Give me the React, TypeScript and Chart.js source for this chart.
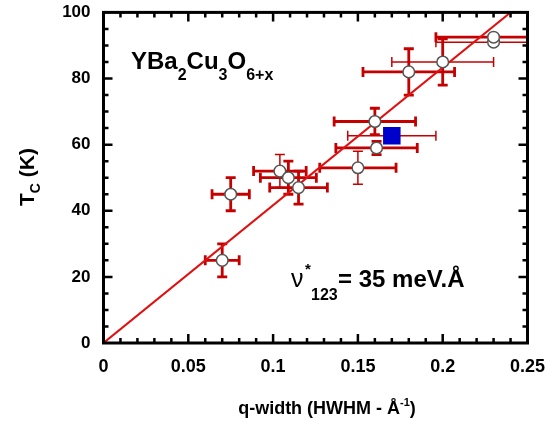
import React, { useEffect, useRef } from 'react';
import { Chart, registerables } from 'chart.js';

Chart.register(...registerables);

// ---- data ----
const qWidth = [0.07, 0.075, 0.104, 0.109, 0.115, 0.15, 0.161, 0.16, 0.18, 0.2, 0.23, 0.23];
const tc = [25, 45, 52, 50, 47, 53, 59, 67, 82, 85, 91, 92.5];
const qErr = [0.01, 0.011, 0.0155, 0.0165, 0.017, 0.0225, 0.024, 0.024, 0.027, 0.03, 0.034, 0.034];
const tcErr = [5, 5, 5, 5, 5, 5, 2, 4, 7, 7, 0, 0];

const sampleQ = [0.17];
const sampleTc = [62.7];
const sampleQErr = [0.026];

const fitQ = [0, 0.24];
const fitTc = [0, 100];

const xTickValues = [0, 0.05, 0.1, 0.15, 0.2, 0.25];
const xTickLabels = ['0', '0.05', '0.1', '0.15', '0.2', '0.25'];
const yTickValues = [0, 20, 40, 60, 80, 100];
const yTickLabels = ['0', '20', '40', '60', '80', '100'];

// ---- styles ----
const qBarHeavy = [true, true, true, true, true, true, true, true, true, false, false, true];
const tcBarHeavy = [true, true, false, true, true, false, true, true, true, true, true, true];

const FONT = "'Liberation Sans', Arial, Helvetica, sans-serif";
const BAR_COLOR = '#c40000';
const LINE_COLOR = '#e01010';

type Run = { text: string; size: number; dy?: number; weight?: string };

function runsWidth(ctx: CanvasRenderingContext2D, runs: Run[]) {
  let w = 0;
  for (const r of runs) {
    ctx.font = `${r.weight ?? 'bold'} ${r.size}px ${FONT}`;
    w += ctx.measureText(r.text).width;
  }
  return w;
}

function drawRuns(ctx: CanvasRenderingContext2D, x: number, y: number, runs: Run[]) {
  let cx = x;
  ctx.textBaseline = 'alphabetic';
  ctx.textAlign = 'left';
  for (const r of runs) {
    ctx.font = `${r.weight ?? 'bold'} ${r.size}px ${FONT}`;
    ctx.fillText(r.text, cx, y + (r.dy ?? 0));
    cx += ctx.measureText(r.text).width;
  }
}

const errorBarsPlugin = {
  id: 'errorBars',
  beforeDatasetsDraw(chart: any) {
    const { ctx, chartArea, scales } = chart;
    const xs = scales.x;
    const ys = scales.y;
    ctx.save();
    ctx.beginPath();
    ctx.rect(chartArea.left, chartArea.top, chartArea.right - chartArea.left, chartArea.bottom - chartArea.top);
    ctx.clip();
    ctx.strokeStyle = BAR_COLOR;
    ctx.lineCap = 'butt';
    const seg = (x1: number, y1: number, x2: number, y2: number, w: number) => {
      ctx.lineWidth = w;
      ctx.beginPath();
      ctx.moveTo(x1, y1);
      ctx.lineTo(x2, y2);
      ctx.stroke();
    };
    const cap = 5;
    const hBar = (q: number, t: number, e: number, w: number) => {
      const py = ys.getPixelForValue(t);
      const x1 = xs.getPixelForValue(q - e);
      const x2 = xs.getPixelForValue(q + e);
      seg(x1, py, x2, py, w);
      seg(x1, py - cap, x1, py + cap, w);
      seg(x2, py - cap, x2, py + cap, w);
    };
    const vBar = (q: number, t: number, e: number, w: number) => {
      const px = xs.getPixelForValue(q);
      const y1 = ys.getPixelForValue(t - e);
      const y2 = ys.getPixelForValue(t + e);
      seg(px, y1, px, y2, w);
      seg(px - cap, y1, px + cap, y1, w);
      seg(px - cap, y2, px + cap, y2, w);
    };
    for (let i = 0; i < qWidth.length; i++) {
      if (qErr[i] > 0) hBar(qWidth[i], tc[i], qErr[i], qBarHeavy[i] ? 2.8 : 1.5);
      if (tcErr[i] > 0) vBar(qWidth[i], tc[i], tcErr[i], tcBarHeavy[i] ? 2.8 : 1.5);
    }
    for (let i = 0; i < sampleQ.length; i++) {
      hBar(sampleQ[i], sampleTc[i], sampleQErr[i], 1.5);
    }
    ctx.restore();
  },
};

const framePlugin = {
  id: 'frameAndText',
  afterDraw(chart: any) {
    const { ctx, chartArea, scales } = chart;
    const xs = scales.x;
    const ys = scales.y;
    const { left, right, top, bottom } = chartArea;
    ctx.save();
    ctx.strokeStyle = '#000';
    ctx.lineWidth = 3;
    ctx.strokeRect(left, top, right - left, bottom - top);

    // ticks (inside, on all four sides)
    ctx.lineWidth = 2.5;
    const tickX = (v: number, len: number) => {
      const px = xs.getPixelForValue(v);
      ctx.beginPath();
      ctx.moveTo(px, bottom);
      ctx.lineTo(px, bottom - len);
      ctx.moveTo(px, top);
      ctx.lineTo(px, top + len);
      ctx.stroke();
    };
    const tickY = (v: number, len: number) => {
      const py = ys.getPixelForValue(v);
      ctx.beginPath();
      ctx.moveTo(left, py);
      ctx.lineTo(left + len, py);
      ctx.moveTo(right, py);
      ctx.lineTo(right - len, py);
      ctx.stroke();
    };
    for (let k = 1; k < 25; k++) {
      tickX(k / 100, k % 5 === 0 ? 9 : 5);
    }
    for (let k = 1; k < 20; k++) {
      tickY(k * 5, k % 4 === 0 ? 9 : 5);
    }

    ctx.fillStyle = '#000';
    // x title
    const xRuns: Run[] = [
      { text: 'q-width (HWHM - Å', size: 18 },
      { text: '-1', size: 11, dy: -8 },
      { text: ')', size: 18 },
    ];
    const xw = runsWidth(ctx, xRuns);
    drawRuns(ctx, 327 - xw / 2, 414, xRuns);

    // y title
    const yRuns: Run[] = [
      { text: 'T', size: 21 },
      { text: 'C', size: 14, dy: 6 },
      { text: ' (K)', size: 21 },
    ];
    const yw = runsWidth(ctx, yRuns);
    ctx.save();
    ctx.translate(34, 177);
    ctx.rotate(-Math.PI / 2);
    drawRuns(ctx, -yw / 2, 0, yRuns);
    ctx.restore();

    // compound label
    drawRuns(ctx, 131, 69, [
      { text: 'YBa', size: 24 },
      { text: '2', size: 16, dy: 11 },
      { text: 'Cu', size: 24 },
      { text: '3', size: 16, dy: 11 },
      { text: 'O', size: 24 },
      { text: '6+x', size: 16, dy: 11 },
    ]);

    // velocity annotation
    drawRuns(ctx, 291, 287, [{ text: 'ν', size: 25, weight: 'normal' }]);
    drawRuns(ctx, 305, 274, [{ text: '*', size: 15 }]);
    drawRuns(ctx, 311, 300, [{ text: '123', size: 16 }]);
    drawRuns(ctx, 338, 287, [{ text: '= 35 meV.Å', size: 24 }]);
    ctx.restore();
  },
};

export default function App() {
  const ref = useRef<HTMLCanvasElement>(null);
  useEffect(() => {
    if (!ref.current) return;
    const chart = new Chart(ref.current, {
      type: 'scatter',
      data: {
        datasets: [
          {
            type: 'line',
            data: fitQ.map((q, i) => ({ x: q, y: fitTc[i] })),
            borderColor: LINE_COLOR,
            borderWidth: 2,
            pointRadius: 0,
            fill: false,
            order: 3,
          } as any,
          {
            data: sampleQ.map((q, i) => ({ x: q, y: sampleTc[i] })),
            pointStyle: 'rect',
            pointRadius: 12.4,
            backgroundColor: '#0000cc',
            borderColor: '#0000cc',
            borderWidth: 0,
            order: 2,
          },
          {
            data: qWidth.map((q, i) => ({ x: q, y: tc[i] })),
            pointStyle: 'circle',
            pointRadius: 5.8,
            backgroundColor: '#ffffff',
            borderColor: '#555555',
            borderWidth: 1.5,
            order: 1,
          },
        ],
      },
      options: {
        animation: false,
        responsive: false,
        events: [],
        layout: { padding: { top: 10, right: 21.5, left: 0, bottom: 0 } },
        plugins: { legend: { display: false }, tooltip: { enabled: false } },
        scales: {
          x: {
            type: 'linear',
            min: 0,
            max: 0.25,
            afterBuildTicks: (s: any) => {
              s.ticks = xTickValues.map((v) => ({ value: v }));
            },
            ticks: {
              font: { family: FONT, size: 18, weight: 'bold' },
              color: '#000',
              padding: 13,
              maxRotation: 0,
              autoSkip: false,
              callback: (_v: any, i: number) => xTickLabels[i],
            },
            grid: { display: false, drawTicks: false },
            border: { display: false },
            afterFit: (s: any) => {
              s.height = 80;
              s.paddingLeft = 0;
              s.paddingRight = 0;
            },
          },
          y: {
            type: 'linear',
            min: 0,
            max: 100,
            afterBuildTicks: (s: any) => {
              s.ticks = yTickValues.map((v) => ({ value: v }));
            },
            ticks: {
              font: { family: FONT, size: 17, weight: 'bold' },
              color: '#000',
              padding: 13,
              autoSkip: false,
              callback: (_v: any, i: number) => yTickLabels[i],
            },
            grid: { display: false, drawTicks: false },
            border: { display: false },
            afterFit: (s: any) => {
              s.width = 103.5;
              s.paddingTop = 0;
              s.paddingBottom = 0;
            },
          },
        },
      },
      plugins: [errorBarsPlugin, framePlugin],
    });
    return () => chart.destroy();
  }, []);
  return (
    <div style={{ position: 'absolute', left: 0, top: 0, width: 549, height: 423, background: '#fff' }}>
      <canvas ref={ref} width={549} height={423} style={{ display: 'block' }} />
    </div>
  );
}
